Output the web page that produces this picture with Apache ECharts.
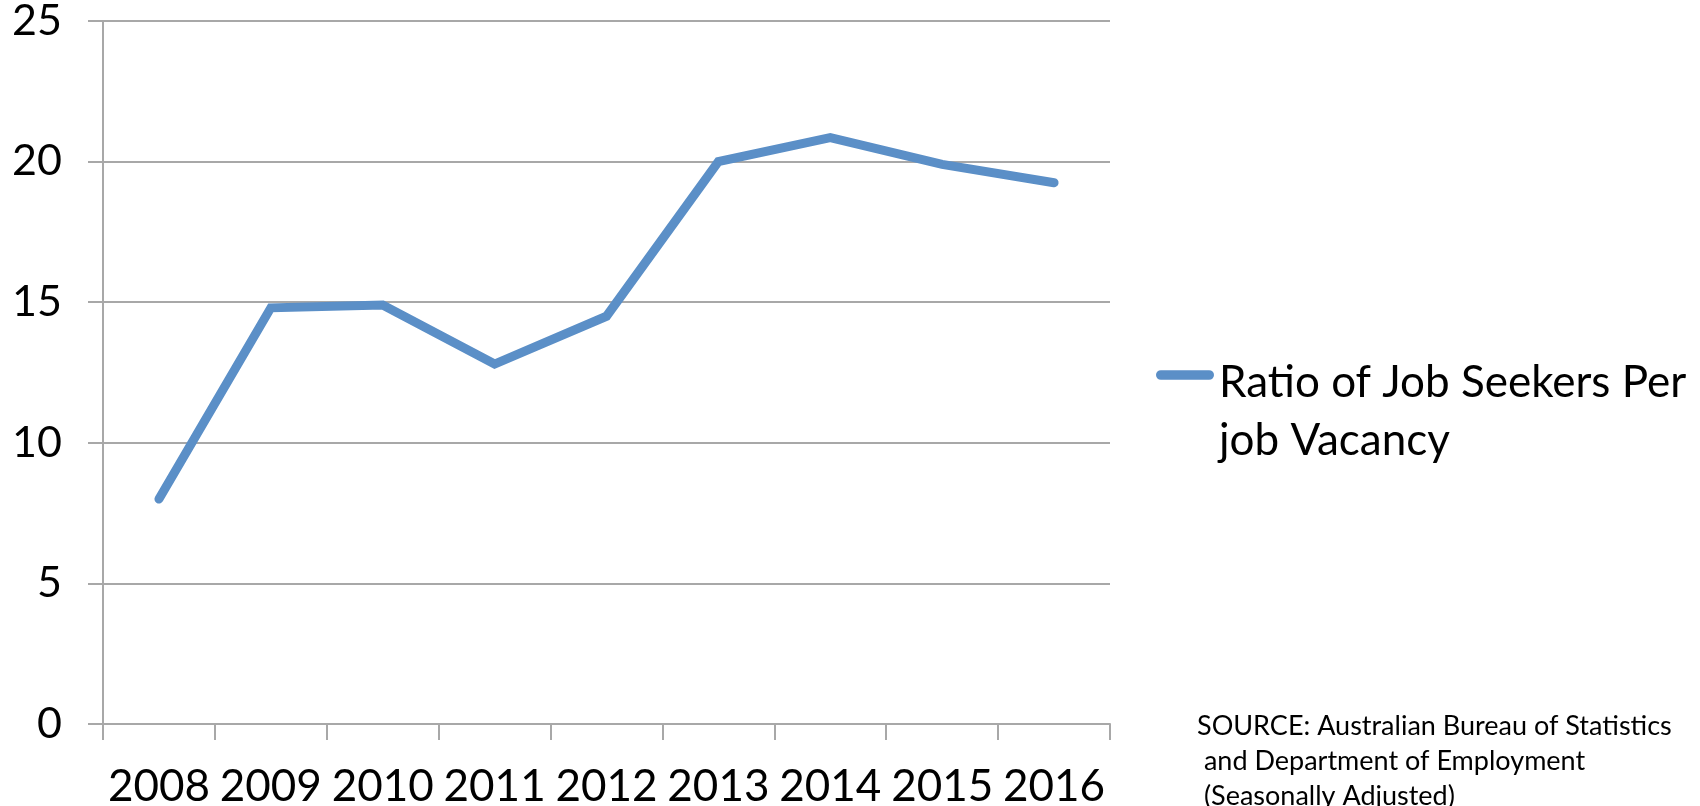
<!DOCTYPE html>
<html>
<head>
<meta charset="utf-8">
<script src="https://cdn.jsdelivr.net/npm/echarts@6/dist/echarts.min.js"></script>
<style>
  html, body { margin: 0; padding: 0; background: #ffffff; }
  #chart { width: 1700px; height: 806px; }
</style>
</head>
<body>
<div id="chart"></div>
<script>
const categories = ['2008', '2009', '2010', '2011', '2012', '2013', '2014', '2015', '2016'];
const ratioValues = [8.0, 14.8, 14.9, 12.8, 14.5, 20.0, 20.85, 19.9, 19.25];
const yTicks = [0, 5, 10, 15, 20, 25];
const seriesName = 'Ratio of Job Seekers Per job Vacancy';
const legendLines = ['Ratio of Job Seekers Per', 'job Vacancy'];
const sourceLines = ['SOURCE: Australian Bureau of Statistics', ' and Department of Employment', ' (Seasonally Adjusted)'];

const FONT = 'Lato';
const GRID_COLOR = '#a8a8a8';
const LINE_COLOR = '#5b8fc7';

const chart = echarts.init(document.getElementById('chart'), null, { renderer: 'canvas' });

chart.setOption({
  backgroundColor: '#ffffff',
  animation: false,
  textStyle: { fontFamily: FONT, color: '#000000' },
  grid: {
    left: 103,
    right: 590,
    top: 21,
    bottom: 82,
    containLabel: false,
    outerBoundsMode: 'none'
  },
  xAxis: {
    type: 'category',
    data: categories,
    boundaryGap: true,
    axisLine: { show: true, lineStyle: { color: GRID_COLOR, width: 2 } },
    axisTick: { show: true, length: 16, alignWithLabel: false, lineStyle: { color: GRID_COLOR, width: 2 } },
    axisLabel: {
      fontFamily: FONT,
      fontSize: 44,
      color: '#000000',
      margin: 41,
      interval: 0
    },
    splitLine: { show: false }
  },
  yAxis: {
    type: 'value',
    min: yTicks[0],
    max: yTicks[yTicks.length - 1],
    interval: 5,
    axisLine: { show: true, lineStyle: { color: GRID_COLOR, width: 2 } },
    axisTick: { show: true, length: 15, lineStyle: { color: GRID_COLOR, width: 2 } },
    axisLabel: {
      fontFamily: FONT,
      fontSize: 43,
      color: '#000000',
      margin: 41,
      verticalAlign: 'middle',
      padding: [9, 0, 0, 0]
    },
    splitLine: { show: true, lineStyle: { color: GRID_COLOR, width: 2 } }
  },
  legend: {
    show: true,
    left: 1151,
    top: 307,
    orient: 'vertical',
    icon: 'path://M5,0 L55,0 A5,5 0 0 1 55,10 L5,10 A5,5 0 0 1 5,0 Z',
    itemWidth: 58,
    itemHeight: 10,
    itemGap: 0,
    data: [seriesName],
    formatter: function () {
      return '{sp| }\n' + legendLines.map(function (l) { return '{a|' + l + '}'; }).join('\n');
    },
    textStyle: {
      fontFamily: FONT,
      fontSize: 44,
      color: '#000000',
      rich: {
        sp: { fontSize: 10, lineHeight: 74 },
        a: { fontFamily: FONT, fontSize: 44, lineHeight: 58, color: '#000000' }
      }
    }
  },
  graphic: [
    {
      type: 'text',
      left: 1197,
      top: 709,
      silent: true,
      style: {
        text: sourceLines.join('\n'),
        font: '27px ' + FONT,
        fill: '#000000',
        lineHeight: 35
      }
    }
  ],
  series: [
    {
      name: seriesName,
      type: 'line',
      data: ratioValues,
      symbol: 'none',
      smooth: false,
      itemStyle: { color: LINE_COLOR },
      lineStyle: { color: LINE_COLOR, width: 9, cap: 'round', join: 'miter' }
    }
  ]
});
</script>
</body>
</html>
